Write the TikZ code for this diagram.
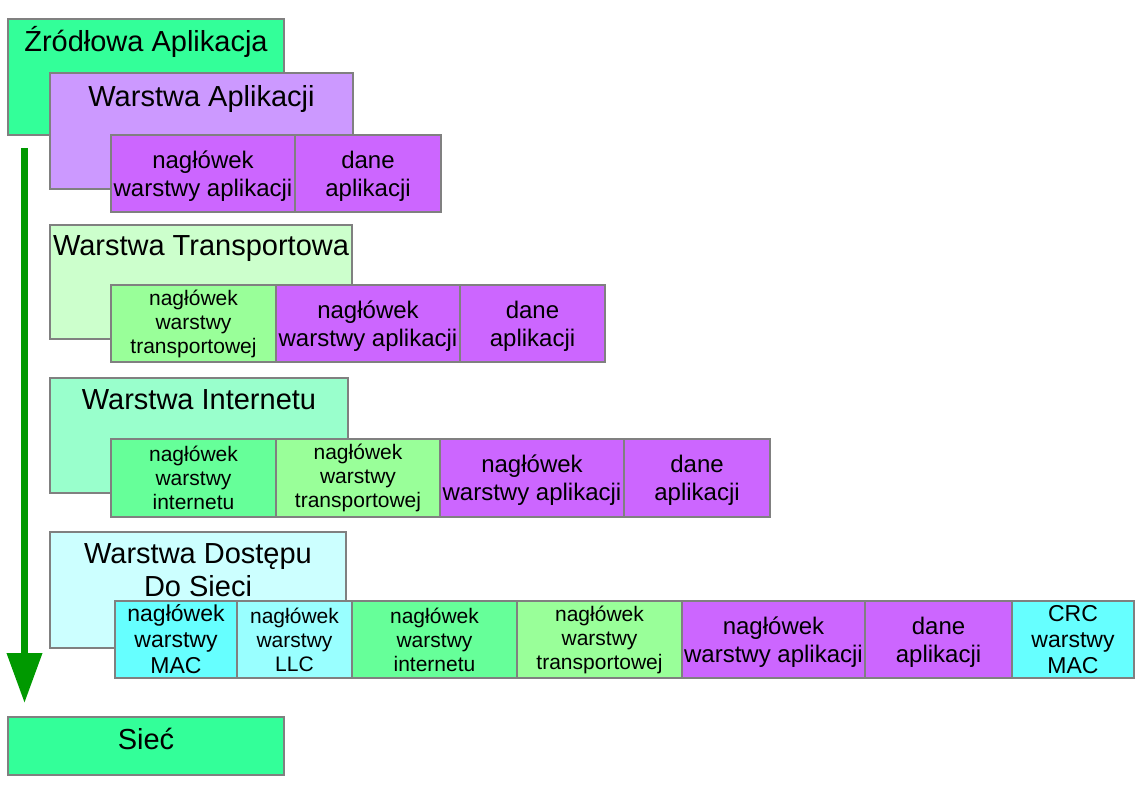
\documentclass[tikz,border=0pt]{standalone}
\usepackage{fontspec}
\setmainfont{Liberation Sans}
\usetikzlibrary{arrows.meta}
\definecolor{srcc}{HTML}{33FF99}
\definecolor{appbox}{HTML}{CC99FF}
\definecolor{appcell}{HTML}{CC66FF}
\definecolor{transbox}{HTML}{CCFFCC}
\definecolor{transcell}{HTML}{99FF99}
\definecolor{netbox}{HTML}{99FFCC}
\definecolor{netcell}{HTML}{66FF99}
\definecolor{accbox}{HTML}{CCFFFF}
\definecolor{maccell}{HTML}{66FFFF}
\definecolor{llccell}{HTML}{99FFFF}
\definecolor{arrowc}{HTML}{009900}
\definecolor{bordergray}{HTML}{808080}
\tikzset{
  box/.style={draw=bordergray, line width=1.2pt, inner sep=0pt, outer sep=0pt, anchor=north west},
  head/.style={font=\fontsize{29}{35}\selectfont, inner sep=0pt, outer sep=0pt},
  bigtxt/.style={font=\fontsize{24}{28}\selectfont, align=center, text depth=-1pt},
  midtxt/.style={font=\fontsize{23}{26}\selectfont, align=center},
  smalltxt/.style={font=\fontsize{21}{24}\selectfont, align=center},
  rowone/.style={minimum height=77pt},
}
\begin{document}
\begin{tikzpicture}[x=1pt,y=-1pt]
\useasboundingbox (0,0) rectangle (1145,794);
% source application
\node[box, fill=srcc, minimum width=276pt, minimum height=116pt] (src) at (8,19) {};
\node[head, anchor=base] (srct) at ([yshift=-33pt]src.north) {Źródłowa Aplikacja};
% application layer
\node[box, fill=appbox, minimum width=303pt, minimum height=116pt] (appl) at (50,73) {};
\node[head, anchor=base] (applt) at ([yshift=-34pt]appl.north) {Warstwa Aplikacji};
\node[box, fill=appcell, minimum width=184pt, rowone, bigtxt] (a1h) at (111,135) {nagłówek\\warstwy aplikacji};
\node[box, fill=appcell, minimum width=146pt, rowone, bigtxt] (a1d) at (295,135) {dane\\aplikacji};
% transport layer
\node[box, fill=transbox, minimum width=302pt, minimum height=114pt] (trl) at (50,225) {};
\node[head, anchor=base] (trlt) at ([yshift=-31pt]trl.north) {Warstwa Transportowa};
\node[box, fill=transcell, minimum width=165pt, rowone, smalltxt] (t2t) at (111,285) {nagłówek\\warstwy\\transportowej};
\node[box, fill=appcell, minimum width=184pt, rowone, bigtxt] (t2h) at (276,285) {nagłówek\\warstwy aplikacji};
\node[box, fill=appcell, minimum width=145pt, rowone, bigtxt] (t2d) at (460,285) {dane\\aplikacji};
% internet layer
\node[box, fill=netbox, minimum width=298pt, minimum height=115pt] (netl) at (50,378) {};
\node[head, anchor=base] (netlt) at ([yshift=-31pt]netl.north) {Warstwa Internetu};
\node[box, fill=netcell, minimum width=165pt, minimum height=78pt, smalltxt] (n3n) at (111,439) {nagłówek\\warstwy\\internetu};
\node[box, fill=transcell, minimum width=164pt, minimum height=78pt, smalltxt] (n3t) at (276,439) {nagłówek\\warstwy\\transportowej};
\node[box, fill=appcell, minimum width=184pt, minimum height=78pt, bigtxt] (n3h) at (440,439) {nagłówek\\warstwy aplikacji};
\node[box, fill=appcell, minimum width=146pt, minimum height=78pt, bigtxt] (n3d) at (624,439) {dane\\aplikacji};
% network access layer
\node[box, fill=accbox, minimum width=296pt, minimum height=116pt] (accl) at (50,532) {};
\node[head, anchor=north, align=center, font=\fontsize{29}{33}\selectfont] (acclt) at ([yshift=-12pt]accl.north) {Warstwa Dostępu\\Do Sieci};
\node[box, fill=maccell, minimum width=122pt, rowone, midtxt] (r4mac) at (115,601) {nagłówek\\warstwy\\MAC};
\node[box, fill=llccell, minimum width=115pt, rowone, smalltxt] (r4llc) at (237,601) {nagłówek\\warstwy\\LLC};
\node[box, fill=netcell, minimum width=165pt, rowone, smalltxt] (r4net) at (352,601) {nagłówek\\warstwy\\internetu};
\node[box, fill=transcell, minimum width=165pt, rowone, smalltxt] (r4tr) at (517,601) {nagłówek\\warstwy\\transportowej};
\node[box, fill=appcell, minimum width=183pt, rowone, bigtxt] (r4app) at (682,601) {nagłówek\\warstwy aplikacji};
\node[box, fill=appcell, minimum width=147pt, rowone, bigtxt] (r4dane) at (865,601) {dane\\aplikacji};
\node[box, fill=maccell, minimum width=122pt, rowone, midtxt] (r4crc) at (1012,601) {CRC\\warstwy\\MAC};
% network
\node[box, fill=srcc, minimum width=276pt, minimum height=58pt] (siec) at (8,717) {};
\node[head, anchor=base] (siect) at ([yshift=-32pt]siec.north) {Sieć};
% arrow
\coordinate (arrtop) at (24.5,148);
\coordinate (arrtip) at (24.5,703);
\draw[draw=arrowc, fill=arrowc, line width=7pt, -{Triangle[width=34pt,length=50pt]}] (arrtop) -- (arrtip);
\end{tikzpicture}
\end{document}
